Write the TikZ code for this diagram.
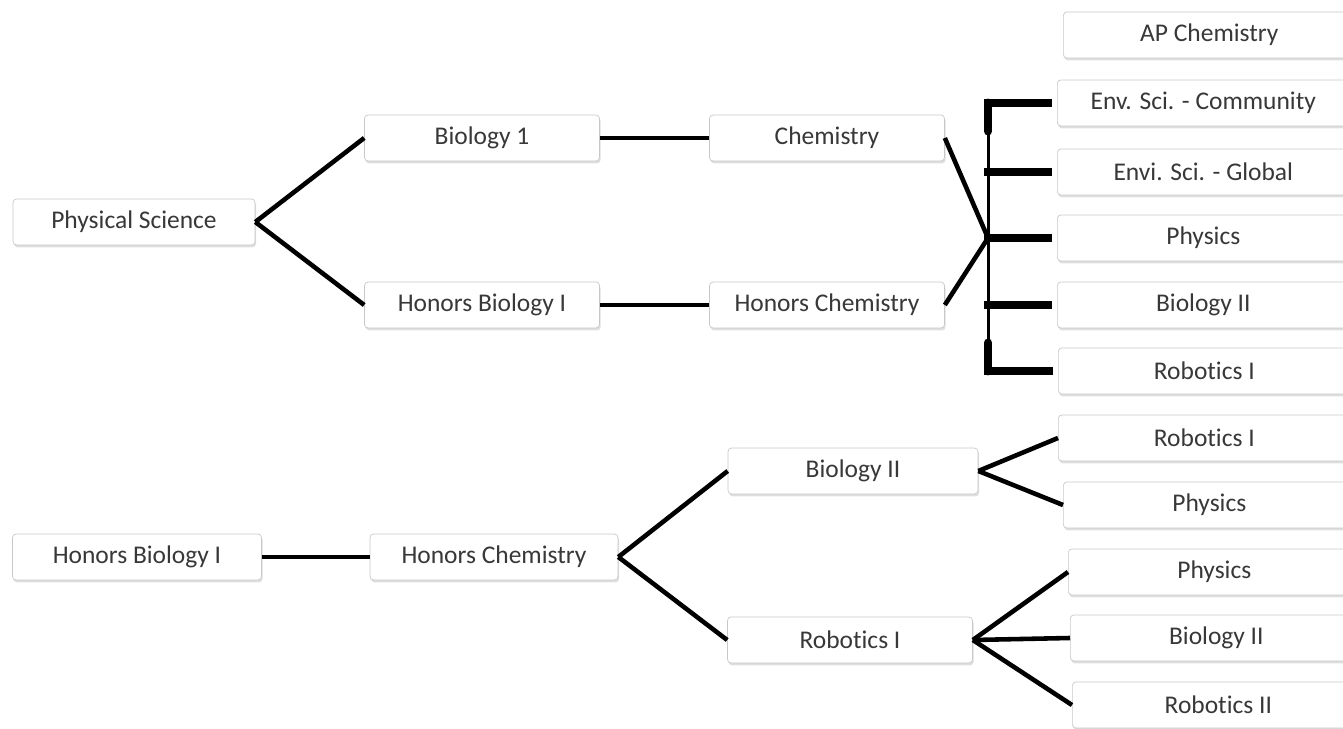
\documentclass[tikz,border=0pt]{standalone}
\usepackage{fontspec}
\setmainfont{Carlito}[Ligatures={NoCommon}]
\usetikzlibrary{
  shadows
}
\definecolor{boxline}{HTML}{C8C8C8}
\definecolor{boxtext}{HTML}{383838}
\tikzset{
  box/.style = {draw=boxline, fill=white, rounded corners=2pt,
    drop shadow={opacity=0.25, shadow xshift=0.6pt, shadow yshift=-1.4pt},
    minimum height=0.92cm, text=boxtext, font=\fontsize{14.5}{16}\selectfont},
  midbox/.style = {box, minimum width=4.7cm},
  endbox/.style = {box, anchor=west, minimum width=5.84cm},
  link/.style = {line width=2.6pt},
  stub/.style = {line width=5pt},
  hubline/.style = {line width=1.7pt},
}

\begin{document}
\begin{tikzpicture}[x=0.02cm, y=-0.02cm]
  \clip (0,0) rectangle (1343,729);
  \useasboundingbox (0,0) rectangle (1343,729);

  % top tree
  \node[box, minimum width=4.84cm] (ps) at (134,222) {Physical Science};
  \node[midbox] (bio1) at (482,138) {Biology 1};
  \node[midbox] (hbio) at (482,305) {Honors Biology I};
  \node[midbox] (chem) at (827,138) {Chemistry};
  \node[midbox] (hchem) at (827,305) {Honors Chemistry};

  \node[endbox] (apchem) at (1063,35) {AP Chemistry};
  \node[endbox] (envc) at (1057,103) {Env. Sci. - Community};
  \node[endbox] (envg) at (1057,172) {Envi. Sci. - Global};
  \node[endbox] (phys) at (1057,238) {Physics};
  \node[endbox] (bio2) at (1057,305) {Biology II};
  \node[endbox] (rob1) at (1058,371) {Robotics I};

  \coordinate (hub) at (988,238);

  \draw[link] (ps.east) -- (bio1.west);
  \draw[link] (ps.east) -- (hbio.west);
  \draw[link] (bio1.east) -- (chem.west);
  \draw[link] (hbio.east) -- (hchem.west);
  \draw[link] (chem.east) -- (hub);
  \draw[link] (hchem.east) -- (hub);

  \draw[hubline] (hub |- envc.west) -- (hub |- rob1.west);
  \draw[stub, line cap=round] ([yshift=-16]hub |- envc.west) -- (hub |- envc.west);
  \draw[stub, line cap=round] ([yshift=16]hub |- rob1.west) -- (hub |- rob1.west);
  \foreach \n in {envc, envg, phys, bio2, rob1}
    \draw[stub] ([xshift=-2pt]hub |- \n.west) -- ([xshift=-3pt]\n.west);

  % bottom tree
  \node[box, minimum width=4.98cm] (hbio2) at (137,557) {Honors Biology I};
  \node[box, minimum width=4.96cm] (hchem2) at (494,557) {Honors Chemistry};
  \node[box, minimum width=5cm] (bio2b) at (853,471) {Biology II};
  \node[box, minimum width=4.9cm] (rob1b) at (850,640) {Robotics I};

  \node[endbox] (rob1c) at (1058,438) {Robotics I};
  \node[endbox] (physb) at (1063,505) {Physics};
  \node[endbox] (physc) at (1068,572) {Physics};
  \node[endbox] (bio2c) at (1070,638) {Biology II};
  \node[endbox] (rob2) at (1072,705) {Robotics II};

  \draw[link] (hbio2.east) -- (hchem2.west);
  \draw[link] (hchem2.east) -- (bio2b.west);
  \draw[link] (hchem2.east) -- (rob1b.west);
  \draw[link] (bio2b.east) -- (rob1c.west);
  \draw[link] (bio2b.east) -- (physb.west);
  \draw[link] (rob1b.east) -- (physc.west);
  \draw[link] (rob1b.east) -- (bio2c.west);
  \draw[link] (rob1b.east) -- (rob2.west);
\end{tikzpicture}
\end{document}
